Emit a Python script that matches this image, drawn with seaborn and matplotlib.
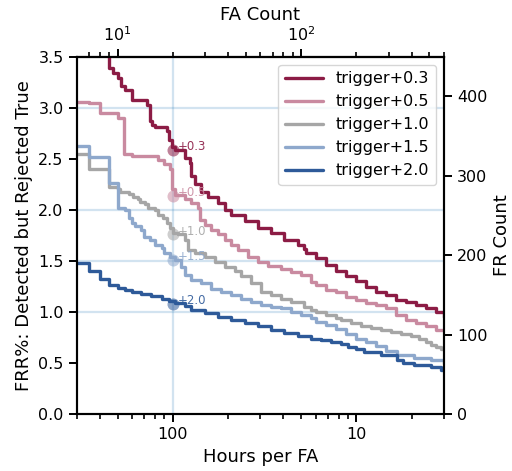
import numpy as np
import pandas as pd
import matplotlib
matplotlib.use("Agg")
import matplotlib.pyplot as plt
from matplotlib.ticker import FuncFormatter, NullFormatter, FixedLocator
import seaborn as sns

# total test hours and number of true samples
TOTAL_HOURS = 2000
N_TRUE = 12850

labels = ["trigger+0.3", "trigger+0.5", "trigger+1.0", "trigger+1.5", "trigger+2.0"]
tags = ["+0.3", "+0.5", "+1.0", "+1.5", "+2.0"]
colors = ["#8c1c45", "#c98aa0", "#a6a6a6", "#8ea8cc", "#2e5a99"]

# FA count -> FRR% curves
fa_03 = [7, 9, 9.5, 10, 10.5, 11, 12, 14.4, 15, 15.5, 16, 18.5, 19, 19.7, 20.5,
         23.2, 24.7, 25.2, 26.3, 28.6, 31, 35.2, 38.3, 41.6, 49.2, 58, 68.6, 81,
         96, 104, 106, 121, 136, 155, 176, 199, 226, 255, 290, 328, 372, 421,
         477, 541, 600, 620]
frr_03 = [3.75, 3.39, 3.34, 3.29, 3.22, 3.18, 3.08, 3.03, 2.87, 2.83, 2.81, 2.77,
          2.69, 2.62, 2.59, 2.51, 2.46, 2.33, 2.25, 2.18, 2.13, 2.07, 2.00, 1.95,
          1.89, 1.82, 1.77, 1.71, 1.66, 1.62, 1.58, 1.53, 1.46, 1.40, 1.35, 1.30,
          1.25, 1.20, 1.17, 1.12, 1.10, 1.07, 1.04, 1.00, 0.95, 0.94]

fa_05 = [6, 7, 8, 10, 10.8, 12, 16.6, 18, 19.2, 19.8, 20.5, 23.2, 25.2, 27.4, 28,
         29.8, 32.4, 35.2, 38.3, 41.6, 45.3, 51.2, 58, 66, 78, 88, 100, 113, 121,
         136, 155, 175, 199, 225, 255, 290, 328, 372, 421, 477, 541, 606, 620]
frr_05 = [3.06, 3.05, 2.95, 2.90, 2.55, 2.53, 2.49, 2.45, 2.40, 2.21, 2.15, 2.11,
          2.07, 2.02, 1.90, 1.85, 1.80, 1.76, 1.71, 1.66, 1.61, 1.54, 1.49, 1.45,
          1.42, 1.39, 1.36, 1.29, 1.26, 1.22, 1.20, 1.15, 1.12, 1.09, 1.07, 1.04,
          0.97, 0.92, 0.89, 0.86, 0.82, 0.79, 0.79]

fa_10 = [6, 7, 9, 10.1, 10.3, 11.5, 12.2, 13, 13.3, 14.1, 14.7, 16, 16.7, 17.8,
         18.5, 19.2, 20.1, 21.4, 23.2, 24.2, 26.3, 29.8, 33.8, 38.3, 43.4, 47.2,
         53.4, 60.6, 68.6, 78, 88, 104, 113, 121, 136, 155, 165, 186, 211, 240,
         272, 308, 349, 397, 440, 478, 509, 542, 577, 620]
frr_10 = [2.55, 2.40, 2.23, 2.21, 2.18, 2.16, 2.13, 2.11, 2.08, 2.06, 2.02, 2.00,
          1.95, 1.92, 1.87, 1.82, 1.77, 1.76, 1.71, 1.61, 1.58, 1.54, 1.49, 1.44,
          1.40, 1.35, 1.28, 1.20, 1.17, 1.13, 1.10, 1.05, 1.02, 1.00, 0.97, 0.94,
          0.92, 0.89, 0.86, 0.84, 0.82, 0.80, 0.78, 0.76, 0.74, 0.71, 0.68, 0.66,
          0.64, 0.63]

fa_15 = [6, 7, 9, 10, 11, 11.5, 12, 12.5, 13.5, 14, 15, 16, 17.4, 18, 19.2, 20.5,
         22.3, 23.2, 25.2, 28.6, 32.4, 36.8, 41.6, 47.2, 53.4, 60.6, 68.6, 78, 88,
         100, 113, 121, 136, 155, 175, 199, 225, 255, 290, 335, 410, 509, 600, 620]
frr_15 = [2.63, 2.52, 2.26, 2.02, 2.00, 1.92, 1.87, 1.84, 1.80, 1.74, 1.71, 1.66,
          1.63, 1.58, 1.54, 1.51, 1.44, 1.36, 1.31, 1.28, 1.23, 1.20, 1.17, 1.13,
          1.10, 1.07, 1.05, 1.04, 1.00, 0.97, 0.94, 0.90, 0.87, 0.83, 0.78, 0.74,
          0.71, 0.67, 0.62, 0.58, 0.55, 0.53, 0.50, 0.50]

fa_20 = [6, 7, 8, 9, 10.1, 11, 12, 13.5, 15.3, 17.4, 19, 20.5, 23.2, 25.2, 29.8,
         35.2, 41.6, 49.2, 58, 68.6, 81, 96, 113, 128, 145, 165, 180, 199, 220,
         272, 335, 360, 410, 509, 580, 620]
frr_20 = [1.48, 1.40, 1.32, 1.26, 1.24, 1.22, 1.20, 1.18, 1.16, 1.13, 1.11, 1.09,
          1.06, 1.02, 0.99, 0.95, 0.92, 0.89, 0.86, 0.82, 0.79, 0.76, 0.74, 0.73,
          0.71, 0.69, 0.66, 0.64, 0.61, 0.58, 0.53, 0.50, 0.48, 0.46, 0.43, 0.43]

# operating point at 100 hours per FA
marker_hours = 100
marker_frr = [2.59, 2.14, 1.76, 1.51, 1.08]

ref_lines = [1.0, 1.5, 2.0, 3.0]

fa_lists = [fa_03, fa_05, fa_10, fa_15, fa_20]
frr_lists = [frr_03, frr_05, frr_10, frr_15, frr_20]

sns.set_theme(style="ticks")
plt.rcParams["font.family"] = ["DejaVu Sans"]
plt.rcParams.update({"text.color": "black", "axes.labelcolor": "black",
                     "xtick.color": "black", "ytick.color": "black",
                     "axes.edgecolor": "black"})

fig, ax = plt.subplots(figsize=(5.12, 4.71), dpi=100)
fig.subplots_adjust(left=0.150, right=0.867, bottom=0.121, top=0.879)

for v in ref_lines:
    ax.axhline(v, color="#1f77b4", alpha=0.2, lw=1.6, zorder=0)
ax.axvline(1 / marker_hours, color="#1f77b4", alpha=0.2, lw=1.6, zorder=0)

for fa, frr, lab, col in zip(fa_lists, frr_lists, labels, colors):
    df = pd.DataFrame({"rate": np.array(fa) / TOTAL_HOURS, "frr": frr})
    sns.lineplot(data=df, x="rate", y="frr", ax=ax, color=col, label=lab,
                 drawstyle="steps-post", linewidth=2.4, sort=False)

for y, tag, col in zip(marker_frr, tags, colors):
    ax.scatter([1 / marker_hours], [y], s=75, color=col, alpha=0.55,
               linewidth=0, zorder=5)
    ax.text(1 / marker_hours * 1.06, y + 0.03, tag, color=col, fontsize=8.5,
            va="center", ha="left", alpha=0.9)

ax.set_xscale("log")
ax.set_xlim(0.003, 0.3)
ax.set_ylim(0, 3.5)
ax.set_yticks(np.arange(0, 3.51, 0.5))
ax.xaxis.set_major_formatter(FuncFormatter(lambda v, p: f"{1 / v:g}"))
ax.xaxis.set_minor_formatter(NullFormatter())
ax.set_xlabel("Hours per FA", fontsize=13)
ax.set_ylabel("FRR%: Detected but Rejected True", fontsize=13)
ax.tick_params(axis="both", which="major", labelsize=11.5, length=6, width=1.4)
ax.tick_params(axis="x", which="minor", length=3.5, width=1.2)
for s in ax.spines.values():
    s.set_linewidth(1.5)

top = ax.secondary_xaxis("top", functions=(lambda r: r * TOTAL_HOURS,
                                           lambda c: c / TOTAL_HOURS))
top.xaxis.set_major_locator(FixedLocator([10, 100]))
top.xaxis.set_minor_locator(FixedLocator([7, 8, 9, 20, 30, 40, 50, 60, 70, 80,
                                          90, 200, 300, 400, 500, 600]))
top.xaxis.set_minor_formatter(NullFormatter())
top.set_xlabel("FA Count", fontsize=13)
top.tick_params(axis="x", which="major", labelsize=11.5, length=6, width=1.4)
top.tick_params(axis="x", which="minor", length=3.5, width=1.2)
top.spines["top"].set_linewidth(1.5)

ax2 = ax.twinx()
ax2.set_ylim(0, 3.5 * N_TRUE / 100)
ax2.set_yticks([0, 100, 200, 300, 400])
ax2.set_ylabel("FR Count", fontsize=13)
ax2.tick_params(axis="y", labelsize=11.5, length=6, width=1.4)
for s in ax2.spines.values():
    s.set_linewidth(1.5)

leg = ax.legend(loc="upper right", fontsize=11.5, handlelength=2.4,
                frameon=True, fancybox=True)
leg.set_zorder(10)

fig.savefig("out.png", dpi=100)
